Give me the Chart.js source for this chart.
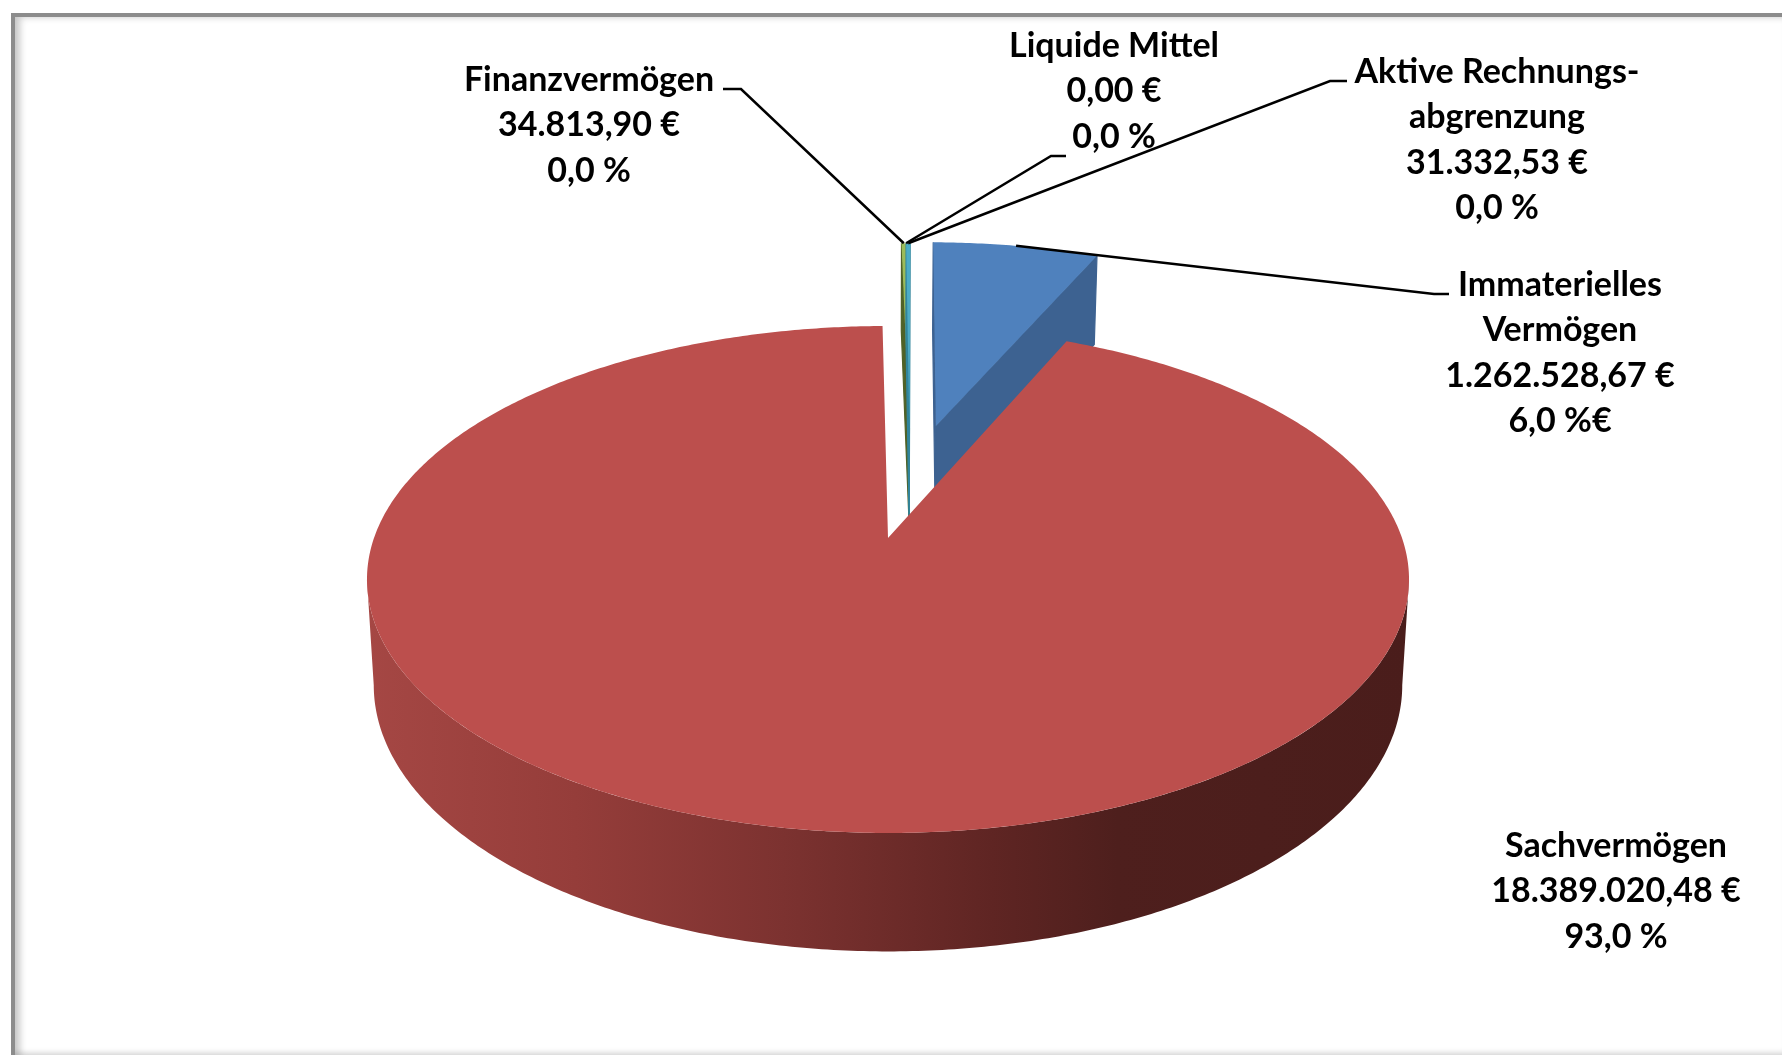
<!DOCTYPE html>
<html>
<head>
<meta charset="utf-8">
<script src="https://cdn.jsdelivr.net/npm/chart.js@4"></script>
<style>
  html, body { margin: 0; padding: 0; background: #fff; overflow: hidden; }
  #frame {
    position: absolute; left: 11px; top: 13px; width: 1771px; height: 1042px; box-sizing: border-box;
    border-left: 4px solid #8c8c8c; border-top: 4px solid #8c8c8c;
    box-shadow: inset 7px 2px 7px -2px rgba(0,0,0,.22), inset 0 -6px 5px -3px rgba(0,0,0,.13);
  }
  canvas { position: absolute; left: 0; top: 0; }
</style>
</head>
<body>
<div id="frame"></div>
<canvas id="pie" width="1782" height="1055"></canvas>
<script>
const categories = ["Immaterielles Vermögen", "Sachvermögen", "Finanzvermögen", "Liquide Mittel", "Aktive Rechnungsabgrenzung"];
const amounts = [1262528.67, 18389020.48, 34813.90, 0.00, 31332.53];
const amountTexts = ["1.262.528,67 €", "18.389.020,48 €", "34.813,90 €", "0,00 €", "31.332,53 €"];
const percentTexts = ["6,0 %€", "93,0 %", "0,0 %", "0,0 %", "0,0 %"];
const labelNames = [["Immaterielles", "Vermögen"], ["Sachvermögen"], ["Finanzvermögen"], ["Liquide Mittel"], ["Aktive Rechnungs-", "abgrenzung"]];

const topColors = ["#4f81bd", "#bc4f4d", "#9bbb59", "#8064a2", "#4bacc6"];
const wallColors = ["#3d6291", "#bc4f4d", "#4f6228", "#4f3d66", "#31859c"];

// how far each slice is pulled out of the pie, in radius units
const explode = [[0.1007, -0.491], [0, 0], [0.045, -0.485], [0.045, -0.485], [0.045, -0.485]];

// label block centre and leader line end, per slice
const labelBoxes = [
  { x: 1560, y: 285, leader: [[1434, 294], [1449, 294]] },
  { x: 1616, y: 846 },
  { x: 589, y: 80, leader: [[741, 89], [723, 89]] },
  { x: 1114, y: 46, leader: [[1051, 156], [1066, 156]] },
  { x: 1497, y: 72, leader: [[1330, 81], [1347, 81]] }
];
const lineGap = 45.5;

// perspective of the pie's top face
const cx = 888, cy = 538, rx = 514, ry = 246.7, tilt = 0.1636, depth = 103.6, bottomScale = 0.987;

function project(u, v, lower) {
  const w = 1 - tilt * v;
  let x = cx + rx * u / w;
  let y = cy + ry * v / w;
  if (lower) {
    x = cx + (x - cx) * bottomScale;
    y += depth / Math.pow(w, 0.75);
  }
  return [x, y];
}

function rimPoints(start, end, off, lower) {
  const pts = [];
  const steps = Math.max(2, Math.ceil((end - start) / 0.01));
  for (let i = 0; i <= steps; i++) {
    const t = start + (end - start) * i / steps;
    pts.push(project(off[0] + Math.cos(t), off[1] + Math.sin(t), lower));
  }
  return pts;
}

function fillPoly(ctx, pts, fill, edge) {
  ctx.beginPath();
  pts.forEach((p, i) => i ? ctx.lineTo(p[0], p[1]) : ctx.moveTo(p[0], p[1]));
  ctx.closePath();
  ctx.fillStyle = fill;
  ctx.fill();
  if (edge) {
    ctx.strokeStyle = fill;
    ctx.lineWidth = edge;
    ctx.stroke();
  }
}

function drawSlice(ctx, arc, i) {
  const off = explode[i];
  const apexTop = project(off[0], off[1], false);
  const apexLow = project(off[0], off[1], true);
  const rimTop = rimPoints(arc.startAngle, arc.endAngle, off, false);

  if (i === 1) {
    // outer wall of the big slice, only the front half shows
    const side = Math.asin(tilt);
    const frontTop = rimPoints(side, Math.PI - side, off, false);
    const frontLow = rimPoints(side, Math.PI - side, off, true);
    const grad = ctx.createLinearGradient(367, 0, 1409, 0);
    grad.addColorStop(0, "#a54744");
    grad.addColorStop(0.2, "#953d3a");
    grad.addColorStop(0.4, "#7c3230");
    grad.addColorStop(0.6, "#5f2523");
    grad.addColorStop(0.72, "#4e1f1d");
    grad.addColorStop(1, "#4a1d1b");
    fillPoly(ctx, frontTop.concat(frontLow.reverse()), grad);
  } else {
    const rimLow = rimPoints(arc.startAngle, arc.endAngle, off, true);
    fillPoly(ctx, [apexTop, rimTop[0], rimLow[0], apexLow], wallColors[i], 1.2);
    fillPoly(ctx, [apexTop, rimTop[rimTop.length - 1], rimLow[rimLow.length - 1], apexLow], wallColors[i], 1.2);
  }
  fillPoly(ctx, [apexTop].concat(rimTop), topColors[i]);
}

function drawLabel(ctx, arc, i) {
  const box = labelBoxes[i];
  const lines = labelNames[i].concat([amountTexts[i], percentTexts[i]]);
  ctx.font = "bold 34px Lato";
  ctx.fillStyle = "#000";
  ctx.textAlign = "center";
  ctx.textBaseline = "middle";
  lines.forEach((line, n) => ctx.fillText(line, box.x, box.y + n * lineGap));

  if (box.leader) {
    const mid = (arc.startAngle + arc.endAngle) / 2;
    const start = project(explode[i][0] + Math.cos(mid), explode[i][1] + Math.sin(mid), false);
    ctx.beginPath();
    ctx.moveTo(start[0], start[1]);
    box.leader.forEach(p => ctx.lineTo(p[0], p[1]));
    ctx.strokeStyle = "#000";
    ctx.lineWidth = 2.5;
    ctx.stroke();
  }
}

// Chart.js works out the slice angles, this plugin paints them in 3D
const pie3d = {
  id: "pie3d",
  beforeDatasetsDraw(chart) {
    const ctx = chart.ctx;
    const arcs = chart.getDatasetMeta(0).data;
    ctx.save();
    [0, 2, 3, 4, 1].forEach(i => {
      if (amounts[i] > 0) drawSlice(ctx, arcs[i], i);
    });
    arcs.forEach((arc, i) => drawLabel(ctx, arc, i));
    ctx.restore();
    return false;
  }
};

new Chart(document.getElementById("pie"), {
  type: "pie",
  data: {
    labels: categories,
    datasets: [{ data: amounts, backgroundColor: topColors, borderWidth: 0 }]
  },
  options: {
    responsive: false,
    animation: false,
    devicePixelRatio: 1,
    rotation: 0.5,
    plugins: { legend: { display: false }, tooltip: { enabled: false } }
  },
  plugins: [pie3d]
});
</script>
</body>
</html>
